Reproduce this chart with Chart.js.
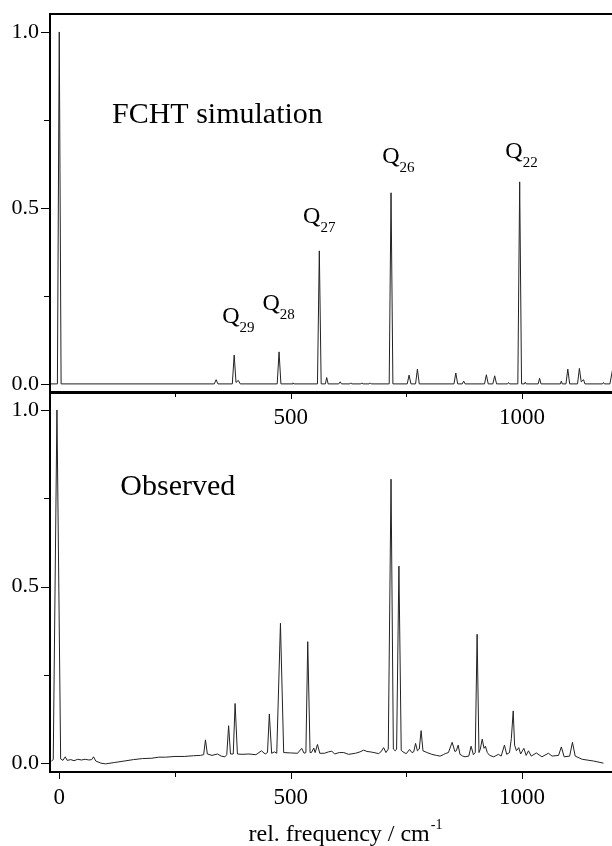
<!DOCTYPE html>
<html>
<head>
<meta charset="utf-8">
<script src="https://cdn.jsdelivr.net/npm/chart.js@4.4.0/dist/chart.umd.min.js"></script>
<style>
  html, body { margin: 0; padding: 0; overflow: hidden; background: #fff; width: 612px; height: 846px; }
  .panel { position: absolute; left: 0; top: 0; }
</style>
</head>
<body>
<canvas id="simChart" class="panel" width="640" height="846"></canvas>
<canvas id="obsChart" class="panel" width="640" height="846"></canvas>
<script>
// FCHT simulation trace (rel. frequency / cm-1, intensity)
const simX = [-20, -4, 0, 4, 335, 339, 343, 374, 378, 382, 387, 391, 471, 475, 479, 503, 505, 507,
  558, 562, 566, 575, 578, 581, 604, 607, 610, 628, 630, 632, 652, 654, 656, 670, 672, 674,
  713, 717, 721, 752, 756, 760, 770, 774, 778, 853, 857, 861, 871, 874, 877, 919, 923, 927,
  937, 941, 945, 969, 971, 973, 991, 995, 999, 1005, 1007, 1009, 1035, 1038, 1041,
  1083, 1085, 1087, 1095, 1099, 1103, 1120, 1124, 1128, 1133, 1136, 1174, 1176, 1178,
  1190, 1197, 1202, 1255];
const simY = [0, 0, 1.0, 0, 0, 0.012, 0, 0, 0.082, 0.004, 0.010, 0, 0, 0.091, 0, 0, 0.003, 0,
  0, 0.378, 0, 0, 0.018, 0, 0, 0.006, 0, 0, 0.003, 0, 0, 0.003, 0, 0, 0.003, 0,
  0, 0.543, 0, 0, 0.025, 0, 0, 0.042, 0, 0, 0.031, 0, 0, 0.008, 0, 0, 0.026, 0,
  0, 0.023, 0, 0, 0.004, 0, 0, 0.574, 0, 0, 0.005, 0, 0, 0.016, 0,
  0, 0.008, 0, 0, 0.042, 0, 0, 0.044, 0.006, 0.012, 0, 0, 0.004, 0,
  0, 0.050, 0, 0];

// observed trace
const obsX = [-17, -13, -5, 3, 8, 13, 17, 25, 32, 40, 48, 56, 64, 70, 74, 79, 90, 100, 120, 140,
  160, 180, 200, 215, 230, 250, 270, 290, 305, 312, 316, 320, 330, 342, 350, 358, 362, 366,
  370, 376, 380, 385, 395, 410, 425, 437, 445, 450, 454, 459, 465, 470, 478, 485, 500, 515,
  524, 529, 533, 537, 542, 545, 550, 553, 558, 563, 573, 582, 589, 595, 605, 615, 625, 640,
  650, 658, 665, 672, 680, 690, 695, 701, 706, 711, 717, 722, 726, 729, 734, 739, 745, 750,
  757, 762, 766, 770, 774, 778, 782, 786, 795, 805, 815, 823, 830, 834, 841, 849, 855, 858,
  862, 866, 872, 877, 885, 890, 895, 899, 903, 907, 910, 914, 918, 921, 925, 930, 939, 949,
  955, 962, 967, 973, 977, 981, 984, 988, 993, 997, 1004, 1009, 1014, 1020, 1031, 1043,
  1057, 1065, 1079, 1085, 1091, 1103, 1109, 1115, 1130, 1155, 1176];
const obsY = [0.006, 0.010, 1.0, 0.012, 0.008, 0.018, 0.008, 0.010, 0.007, 0.011, 0.009, 0.011,
  0.009, 0.010, 0.018, 0.006, 0.000, -0.002, 0.002, 0.006,
  0.010, 0.013, 0.014, 0.017, 0.017, 0.019, 0.019, 0.021, 0.022, 0.024, 0.066, 0.026, 0.022,
  0.026, 0.020, 0.018, 0.024, 0.106,
  0.026, 0.026, 0.169, 0.026, 0.025, 0.026, 0.024, 0.035, 0.026, 0.030, 0.139, 0.028, 0.032,
  0.028, 0.396, 0.030, 0.029, 0.028,
  0.042, 0.028, 0.030, 0.344, 0.030, 0.030, 0.043, 0.030, 0.053, 0.028, 0.028, 0.032, 0.034,
  0.026, 0.030, 0.030, 0.025, 0.028,
  0.032, 0.037, 0.033, 0.032, 0.030, 0.027, 0.032, 0.044, 0.030, 0.040, 0.804, 0.040, 0.035,
  0.040, 0.558, 0.036, 0.030, 0.027,
  0.039, 0.030, 0.032, 0.056, 0.035, 0.040, 0.092, 0.035, 0.030, 0.025, 0.022, 0.020, 0.024,
  0.027, 0.030, 0.059, 0.033, 0.035,
  0.051, 0.025, 0.020, 0.018, 0.020, 0.048, 0.024, 0.030, 0.365, 0.030, 0.040, 0.068, 0.042,
  0.048, 0.030, 0.022, 0.018, 0.025,
  0.020, 0.051, 0.025, 0.030, 0.070, 0.148, 0.051, 0.035, 0.044, 0.026, 0.042, 0.022, 0.035,
  0.020, 0.029, 0.018,
  0.028, 0.020, 0.022, 0.046, 0.018, 0.020, 0.059, 0.020, 0.011, 0.006, 0.000];

// axis ticks (major ones carry labels)
const xTicks = [0, 250, 500, 750, 1000, 1250];
const xLabelled = [0, 500, 1000];
const yTicks = [0, 0.25, 0.5, 0.75, 1.0];
const yLabelled = [0, 0.5, 1.0];

// peak assignments in the simulated panel
const qSubs = ['29', '28', '27', '26', '22'];
const qX = [352, 439, 527, 698, 964];
const qY = [0.173, 0.210, 0.457, 0.628, 0.642];

const serif = '"Liberation Serif", "Times New Roman", serif';

const framePlugin = {
  id: 'frame',
  afterDatasetsDraw(chart, args, opts) {
    const { ctx, chartArea: a, scales: { x, y } } = chart;
    ctx.save();
    ctx.strokeStyle = '#000';
    ctx.lineWidth = 2;
    ctx.beginPath();
    ctx.moveTo(a.left, a.top); ctx.lineTo(a.right, a.top);
    ctx.moveTo(a.left, a.top - 1); ctx.lineTo(a.left, a.bottom + 1);
    ctx.moveTo(a.left, a.bottom); ctx.lineTo(a.right, a.bottom);
    ctx.stroke();
    ctx.lineWidth = 1;
    ctx.beginPath();
    x.ticks.forEach(t => {
      if ((opts.skipX || []).includes(t.value)) return;
      const px = Math.round(x.getPixelForValue(t.value)) + 0.5;
      const len = xLabelled.includes(t.value) ? 6 : 4;
      ctx.moveTo(px, a.bottom + 1); ctx.lineTo(px, a.bottom + 1 + len);
    });
    y.ticks.forEach(t => {
      const py = Math.round(y.getPixelForValue(t.value)) + 0.5;
      const len = yLabelled.includes(t.value) ? 8 : 5;
      ctx.moveTo(a.left - 1 - len, py); ctx.lineTo(a.left, py);
    });
    ctx.stroke();
    ctx.restore();
  }
};

const notesPlugin = {
  id: 'notes',
  afterDatasetsDraw(chart, args, opts) {
    const { ctx, chartArea: a, scales: { x, y } } = chart;
    ctx.save();
    ctx.fillStyle = '#000';
    ctx.textAlign = 'left';
    ctx.textBaseline = 'alphabetic';
    if (opts.title) {
      ctx.font = '30px ' + serif;
      ctx.fillText(opts.title.text, x.getPixelForValue(opts.title.x), y.getPixelForValue(opts.title.y));
    }
    (opts.peaks || []).forEach(p => {
      const px = x.getPixelForValue(p.x);
      const py = y.getPixelForValue(p.y);
      ctx.font = '24px ' + serif;
      ctx.fillText('Q', px, py);
      const w = ctx.measureText('Q').width;
      ctx.font = '15px ' + serif;
      ctx.fillText(p.sub, px + w, py + 9);
    });
    if (opts.axisTitle) {
      ctx.font = '24px ' + serif;
      const main = opts.axisTitle.text;
      const wMain = ctx.measureText(main).width;
      ctx.font = '14px ' + serif;
      const wSup = ctx.measureText(opts.axisTitle.sup).width;
      const left = (a.left + a.right) / 2 - (wMain + wSup) / 2;
      const base = a.bottom + 69;
      ctx.font = '24px ' + serif;
      ctx.fillText(main, left, base);
      ctx.font = '14px ' + serif;
      ctx.fillText(opts.axisTitle.sup, left + wMain + 1, base - 12);
    }
    ctx.restore();
  }
};

function makeChart(id, xs, ys, yMin, yMax, padTop, padBottom, hideZero, notes) {
  const points = xs.map((v, i) => ({ x: v, y: ys[i] }));
  return new Chart(document.getElementById(id), {
    type: 'line',
    data: {
      datasets: [{
        data: points,
        borderColor: '#222',
        borderWidth: 1,
        pointRadius: 0,
        tension: 0,
        fill: false
      }]
    },
    options: {
      responsive: false,
      animation: false,
      events: [],
      layout: { padding: { top: padTop, bottom: padBottom, left: 0, right: 0 } },
      plugins: {
        legend: { display: false },
        tooltip: { enabled: false },
        frame: { skipX: hideZero ? [0] : [] },
        notes: notes
      },
      scales: {
        x: {
          type: 'linear',
          min: -20,
          max: 1255,
          afterBuildTicks: s => { s.ticks = xTicks.map(v => ({ value: v })); },
          afterFit: s => { s.height = 40; s.paddingLeft = 0; s.paddingRight = 0; },
          border: { display: false },
          grid: { display: false, drawTicks: false },
          ticks: {
            autoSkip: false,
            maxRotation: 0,
            padding: 12,
            color: '#000',
            font: { family: serif, size: 23 },
            callback: v => (!xLabelled.includes(v) || (hideZero && v === 0)) ? '' : String(v)
          }
        },
        y: {
          min: yMin,
          max: yMax,
          afterBuildTicks: s => { s.ticks = yTicks.map(v => ({ value: v })); },
          afterFit: s => { s.width = 50; s.paddingTop = 0; s.paddingBottom = 0; },
          border: { display: false },
          grid: { display: false, drawTicks: false },
          ticks: {
            autoSkip: false,
            padding: 11,
            color: '#000',
            font: { family: serif, size: 22 },
            callback: v => yLabelled.includes(v) ? v.toFixed(1) : ''
          }
        }
      }
    },
    plugins: [framePlugin, notesPlugin]
  });
}

makeChart('simChart', simX, simY, -0.023, 1.051, 14, 846 - 392 - 40, true, {
  title: { text: 'FCHT simulation', x: 114, y: 0.741 },
  peaks: qSubs.map((s, i) => ({ sub: s, x: qX[i], y: qY[i] }))
});

makeChart('obsChart', obsX, obsY, -0.025, 1.048, 393, 846 - 772 - 40, false, {
  title: { text: 'Observed', x: 132, y: 0.759 },
  axisTitle: { text: 'rel. frequency / cm', sup: '-1' }
});
</script>
</body>
</html>
